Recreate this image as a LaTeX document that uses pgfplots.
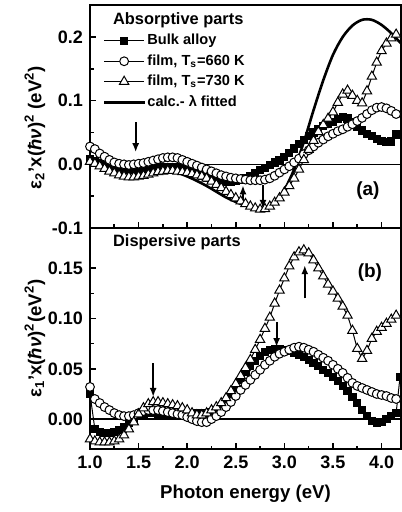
\documentclass[border=0pt]{standalone}
\usepackage{fontspec}
\setmainfont{Liberation Sans}
\usepackage{pgfplots}
\pgfplotsset{compat=1.18}
\usepackage{pgfplotstable}
\usetikzlibrary{arrows.meta}

\pgfplotstableread{
E     bulk    fa      fb
1.00  0.008   0.028   0.004
1.05  0.005   0.024   0.001
1.10  0.002   0.017  -0.003
1.15  0.000   0.012  -0.007
1.20 -0.002   0.007  -0.011
1.25 -0.004   0.003  -0.014
1.30 -0.005   0.001  -0.017
1.35 -0.007   0.000  -0.019
1.40 -0.008  -0.001  -0.020
1.45 -0.008   0.000  -0.020
1.50 -0.008   0.001  -0.019
1.55 -0.007   0.002  -0.018
1.60 -0.006   0.004  -0.016
1.65 -0.005   0.006  -0.014
1.70 -0.004   0.008  -0.012
1.75 -0.004   0.010  -0.011
1.80 -0.004   0.011  -0.010
1.85 -0.004   0.011  -0.010
1.90 -0.005   0.010  -0.011
1.95 -0.007   0.007  -0.012
2.00 -0.009   0.004  -0.013
2.05 -0.012   0.001  -0.015
2.10 -0.015  -0.002  -0.017
2.15 -0.018  -0.005  -0.019
2.20 -0.021  -0.008  -0.022
2.25 -0.023  -0.011  -0.027
2.30 -0.025  -0.014  -0.032
2.35 -0.026  -0.017  -0.037
2.40 -0.027  -0.019  -0.043
2.45 -0.027  -0.021  -0.048
2.50 -0.026  -0.022  -0.053
2.55 -0.025  -0.023  -0.058
2.60 -0.022  -0.024  -0.062
2.65 -0.018  -0.025  -0.066
2.70 -0.013  -0.025  -0.069
2.75 -0.009  -0.025  -0.071
2.80 -0.006  -0.024  -0.070
2.85 -0.001  -0.022  -0.066
2.90  0.003  -0.018  -0.060
2.95  0.007  -0.013  -0.053
3.00  0.012  -0.008  -0.044
3.05  0.018  -0.003  -0.034
3.10  0.025   0.003  -0.022
3.15  0.032   0.009  -0.008
3.20  0.038   0.016   0.007
3.25  0.044   0.022   0.023
3.30  0.050   0.028   0.037
3.35  0.055   0.034   0.051
3.40  0.060   0.039   0.062
3.45  0.064   0.044   0.072
3.50  0.067   0.048   0.082
3.55  0.071   0.052   0.097
3.60  0.074   0.055   0.110
3.65  0.072   0.059   0.116
3.70  0.066   0.063   0.108
3.75  0.059   0.068   0.100
3.80  0.053   0.073   0.096
3.85  0.048   0.079   0.115
3.90  0.044   0.085   0.138
3.95  0.040   0.089   0.160
4.00  0.037   0.090   0.178
4.05  0.035   0.088   0.190
4.10  0.036   0.084   0.198
4.15  0.047   0.079   0.204
}\topdata

\pgfplotstableread{
E     bulk    fa      fb
1.00  0.025   0.032  -0.020
1.05 -0.010   0.020  -0.022
1.10 -0.013   0.016  -0.023
1.15 -0.014   0.012  -0.023
1.20 -0.014   0.009  -0.023
1.25 -0.013   0.006  -0.022
1.30 -0.011   0.004  -0.020
1.35 -0.008   0.003  -0.016
1.40 -0.004   0.003  -0.010
1.45  0.000   0.004  -0.003
1.50  0.003   0.006   0.005
1.55  0.005   0.008   0.011
1.60  0.006   0.009   0.015
1.65  0.006   0.009   0.017
1.70  0.005   0.009   0.017
1.75  0.004   0.008   0.016
1.80  0.003   0.007   0.015
1.85  0.003   0.006   0.014
1.90  0.003   0.005   0.013
1.95  0.003   0.004   0.011
2.00  0.004   0.002   0.009
2.05  0.005   0.000   0.006
2.10  0.006  -0.002   0.004
2.15  0.006  -0.003   0.004
2.20  0.006  -0.003   0.006
2.25  0.007   0.000   0.009
2.30  0.009   0.003   0.012
2.35  0.011   0.007   0.016
2.40  0.015   0.012   0.021
2.45  0.022   0.017   0.028
2.50  0.030   0.023   0.035
2.55  0.039   0.029   0.043
2.60  0.047   0.034   0.051
2.65  0.053   0.039   0.059
2.70  0.058   0.044   0.069
2.75  0.063   0.049   0.079
2.80  0.067   0.054   0.090
2.85  0.069   0.058   0.101
2.90  0.070   0.062   0.115
2.95  0.070   0.065   0.128
3.00  0.069   0.067   0.140
3.05  0.068   0.069   0.152
3.10  0.066   0.071   0.161
3.15  0.064   0.072   0.166
3.20  0.062   0.071   0.168
3.25  0.059   0.069   0.165
3.30  0.056   0.067   0.158
3.35  0.053   0.064   0.150
3.40  0.049   0.061   0.142
3.45  0.046   0.058   0.134
3.50  0.042   0.054   0.127
3.55  0.038   0.050   0.120
3.60  0.033   0.046   0.112
3.65  0.028   0.041   0.103
3.70  0.022   0.036   0.088
3.75  0.016   0.033   0.070
3.80  0.009   0.031   0.060
3.85  0.003   0.029   0.068
3.90 -0.002   0.027   0.080
3.95 -0.004   0.025   0.087
4.00 -0.003   0.024   0.091
4.05  0.000   0.023   0.095
4.10  0.003   0.021   0.099
4.15  0.006   0.020   0.103
4.19  0.042   nan     nan
}\botdata

\pgfplotstableread{
E     c
1.00  0.010
1.10  0.006
1.20  0.001
1.30 -0.003
1.40 -0.006
1.50 -0.007
1.60 -0.006
1.70 -0.005
1.80 -0.008
1.90 -0.013
2.00 -0.019
2.10 -0.026
2.20 -0.034
2.30 -0.043
2.40 -0.052
2.50 -0.059
2.60 -0.065
2.70 -0.069
2.80 -0.068
2.90 -0.060
3.00 -0.040
3.10 -0.008
3.20  0.035
3.30  0.085
3.40  0.132
3.50  0.172
3.60  0.200
3.70  0.218
3.80  0.227
3.90  0.227
4.00  0.219
4.10  0.206
4.20  0.190
}\calcdata

\tikzset{arr/.style={line width=0.9pt, -{Latex[length=4.5pt,width=3.5pt]}}}
\pgfplotsset{
  panel/.style={
    scale only axis, width=155.5pt, xmin=1, xmax=4.2,
    axis line style={line width=1pt},
    every tick/.style={black, line width=0.8pt},
    major tick length=3pt, minor tick length=1.8pt,
    tick align=inside, xtick pos=bottom, ytick pos=left,
    xtick={1,1.5,2,2.5,3,3.5,4}, minor x tick num=1,
    minor y tick num=1,
    ticklabel style={font=\bfseries\fontsize{9}{10}\selectfont},
    /pgf/number format/assume math mode=true,
    label style={font=\bfseries\fontsize{9.3}{11}\selectfont},
  },
  sq/.style={black, line width=0.5pt, mark=square*, mark size=1.8pt, mark options={fill=black, solid}},
  ci/.style={black, line width=0.5pt, mark=*, mark size=2.2pt, mark options={fill=white, line width=0.5pt}},
  tr/.style={black, line width=0.5pt, mark=triangle*, mark size=2.7pt, mark options={fill=white, line width=0.5pt}},
}

\begin{document}
\begin{tikzpicture}
% bottom panel
\begin{axis}[panel, at={(0pt,0pt)}, anchor=south west, height=110.65pt,
  ymin=-0.03, ymax=0.19, ytick={0,0.05,0.1,0.15},
  yticklabel style={/pgf/number format/fixed, /pgf/number format/fixed zerofill, /pgf/number format/precision=2},
  xticklabel style={/pgf/number format/fixed, /pgf/number format/fixed zerofill, /pgf/number format/precision=1},
  xlabel={Photon energy (eV)},
  xlabel style={at={(axis description cs:0.5,-0.2)}, anchor=center},
  ylabel={ε\textsubscript{1}'x(\textit{ħν})\textsuperscript{2}(eV\textsuperscript{2})},
  ylabel style={at={(axis description cs:-0.177,0.5)}, anchor=center},
]
\addplot[black, line width=0.8pt, forget plot] coordinates {(1,0) (4.2,0)};
\addplot[sq] table[x=E, y=bulk] {\botdata};
\addplot[ci] table[x=E, y=fa] {\botdata};
\addplot[tr] table[x=E, y=fb] {\botdata};
\draw[arr] (axis cs:1.65,0.0557) -- (axis cs:1.65,0.022);
\draw[arr] (axis cs:2.92,0.0964) -- (axis cs:2.92,0.0716);
\draw[arr] (axis cs:3.21,0.12) -- (axis cs:3.21,0.153);
\node[anchor=west, font=\bfseries\fontsize{8.2}{9}\selectfont] at (axis cs:1.165,0.176) {Dispersive parts};
\node[font=\bfseries\fontsize{9.5}{11}\selectfont] at (axis cs:3.88,0.146) {(b)};
\end{axis}
% top panel
\begin{axis}[panel, at={(0pt,110.65pt)}, anchor=south west, height=111.4pt,
  ymin=-0.1, ymax=0.25, ytick={-0.1,0,0.1,0.2},
  yticklabel style={/pgf/number format/fixed, /pgf/number format/fixed zerofill, /pgf/number format/precision=1},
  xticklabels={},
  ylabel={ε\textsubscript{2}'x(\textit{ħν})\textsuperscript{2} (eV\textsuperscript{2})},
  ylabel style={at={(axis description cs:-0.177,0.45)}, anchor=center},
  legend style={draw=none, fill=none, at={(rel axis cs:0.04,0.89)}, anchor=north west,
    font=\bfseries\fontsize{7.3}{8}\selectfont, row sep=-0.6pt, inner sep=0pt,
    cells={anchor=west}, nodes={inner xsep=1pt},
    /tikz/every odd column/.append style={column sep=0pt}},
  legend image code/.code={\draw[mark repeat=2,mark phase=2,#1] plot coordinates {(0pt,0pt)(10pt,0pt)(20pt,0pt)};},
]
\addplot[black, line width=0.8pt, forget plot] coordinates {(1,0) (4.2,0)};
\addplot[sq] table[x=E, y=bulk] {\topdata};
\addlegendentry{Bulk alloy}
\addplot[ci] table[x=E, y=fa] {\topdata};
\addlegendentry{film, T\textsubscript{s}=660 K}
\addplot[tr] table[x=E, y=fb] {\topdata};
\addlegendentry{film, T\textsubscript{s}=730 K}
\addplot[black, line width=1.3pt, smooth, no marks] table[x=E, y=c] {\calcdata};
\addlegendentry{calc.- λ fitted}
\draw[arr] (axis cs:1.47,0.066) -- (axis cs:1.47,0.019);
\draw[arr] (axis cs:2.574,-0.057) -- (axis cs:2.574,-0.033);
\draw[arr] (axis cs:2.78,-0.033) -- (axis cs:2.78,-0.07);
\node[anchor=west, font=\bfseries\fontsize{8.2}{9}\selectfont] at (axis cs:1.165,0.227) {Absorptive parts};
\node[font=\bfseries\fontsize{9.5}{11}\selectfont] at (axis cs:3.86,-0.041) {(a)};
\end{axis}
\pgfresetboundingbox
\path[use as bounding box] (-45pt,-31.35pt) rectangle (155.5pt,224.65pt);
\end{tikzpicture}
\end{document}
